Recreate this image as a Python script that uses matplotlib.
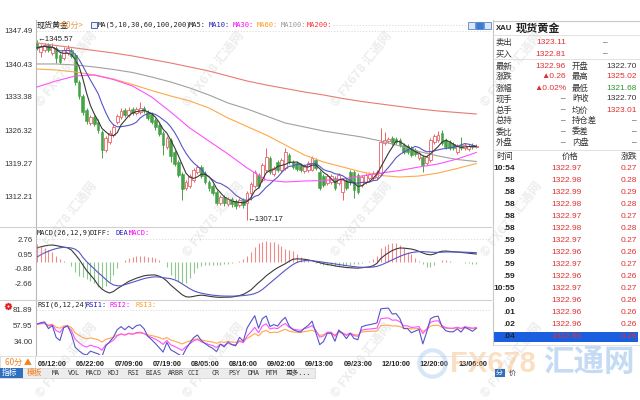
import numpy as np
import pandas as pd
import matplotlib
matplotlib.use('Agg')
import matplotlib.pyplot as plt
from matplotlib.patches import Rectangle
from matplotlib.lines import Line2D

# ---------------- data ----------------
opens = [1344.93,1343.00,1343.43,1344.50,1342.79,1343.86,1342.36,1341.72,1342.79,1343.43,
         1342.36,1336.59,1333.60,1330.60,1327.82,1329.11,1328.04,1325.90,1322.05,1323.76,
         1325.26,1328.04,1329.11,1330.60,1329.53,1330.82,1329.96,1330.17,1331.03,1330.17,
         1329.75,1328.46,1327.40,1325.69,1322.69,1324.19,1321.62,1319.48,1316.92,1313.93,
         1314.35,1315.64,1317.35,1318.42,1317.13,1315.21,1314.35,1313.07,1310.72,1312.00,
         1310.51,1311.57,1311.15,1310.29,1311.36,1310.72,1312.86,1314.35,1316.71,1315.64,
         1317.77,1320.34,1316.92,1319.48,1317.77,1318.20,1320.98,1319.48,1319.27,1318.84,
         1317.56,1317.77,1317.77,1319.91,1317.35,1316.49,1315.00,1315.21,1316.06,1315.00,
         1313.07,1315.64,1317.35,1317.35,1316.71,1314.57,1315.21,1316.06,1316.06,1316.28,
         1317.13,1323.55,1323.97,1324.62,1324.40,1324.19,1323.12,1322.91,1322.48,1322.05,
         1320.34,1320.55,1319.27,1319.91,1323.76,1324.19,1325.69,1324.19,1323.76,1323.33,
         1321.62,1323.12,1322.48,1322.26,1323.12,1322.69]
closes = [1343.86,1344.29,1344.50,1343.43,1344.07,1341.72,1340.86,1343.43,1343.86,1342.15,
          1336.59,1333.60,1330.17,1328.25,1329.11,1327.61,1326.33,1322.05,1324.62,1325.69,
          1326.97,1329.32,1330.39,1329.53,1330.60,1329.96,1330.82,1331.03,1330.39,1328.89,
          1328.04,1326.97,1325.47,1323.12,1324.62,1320.77,1319.06,1316.71,1313.71,1315.21,
          1316.49,1317.77,1318.42,1316.49,1315.21,1313.93,1312.86,1310.72,1312.00,1310.72,
          1311.57,1310.51,1310.08,1311.36,1310.29,1312.86,1314.78,1317.35,1314.35,1318.84,
          1320.55,1317.35,1318.20,1317.77,1319.91,1321.62,1319.48,1318.42,1317.99,1317.77,
          1318.63,1319.27,1320.34,1318.20,1313.93,1314.57,1316.49,1316.49,1313.93,1316.71,
          1315.64,1313.93,1315.21,1313.50,1313.07,1316.28,1316.71,1316.92,1317.13,1317.35,
          1323.76,1324.19,1324.40,1323.55,1323.76,1323.12,1321.62,1321.62,1320.98,1321.20,
          1321.41,1318.84,1320.55,1324.19,1325.04,1325.26,1323.55,1322.69,1322.48,1322.48,
          1322.91,1322.48,1323.12,1322.91,1322.69,1322.96]
highs = [1345.57,1344.71,1344.93,1344.93,1344.93,1344.29,1342.79,1344.07,1344.50,1343.86,
         1342.79,1337.02,1334.02,1331.03,1329.53,1329.53,1328.68,1326.33,1325.04,1326.33,
         1327.61,1329.75,1331.03,1331.03,1331.24,1331.24,1331.24,1332.31,1331.46,1330.60,
         1330.17,1328.89,1327.82,1326.11,1325.04,1324.62,1322.05,1319.91,1317.35,1315.64,
         1316.92,1318.20,1318.84,1318.84,1317.56,1315.64,1314.78,1313.50,1312.43,1312.43,
         1312.00,1312.00,1311.57,1311.79,1311.79,1313.28,1315.21,1317.77,1317.13,1319.27,
         1322.48,1320.77,1318.63,1319.91,1320.34,1322.48,1321.41,1319.91,1319.70,1319.27,
         1319.06,1319.70,1320.77,1320.34,1317.77,1316.92,1316.92,1316.92,1316.49,1317.13,
         1316.06,1316.06,1317.77,1317.77,1317.13,1316.71,1317.13,1317.35,1317.56,1317.77,
         1326.75,1325.90,1324.83,1325.04,1324.83,1324.62,1323.55,1323.33,1322.91,1322.48,
         1321.84,1320.98,1320.98,1324.62,1325.47,1326.11,1326.33,1324.62,1324.19,1323.76,
         1323.33,1324.83,1323.55,1323.33,1323.55,1323.33]
lows = [1343.43,1341.93,1343.00,1343.00,1342.36,1340.65,1340.44,1341.29,1342.36,1341.72,
        1335.95,1332.95,1329.53,1327.61,1327.40,1327.18,1325.69,1320.34,1321.62,1323.33,
        1324.83,1327.61,1328.68,1329.11,1329.11,1329.53,1329.53,1329.75,1329.96,1328.46,
        1327.61,1326.33,1325.04,1320.98,1322.26,1319.48,1318.63,1316.28,1311.36,1313.50,
        1313.93,1315.21,1316.92,1316.06,1314.78,1313.28,1312.43,1310.29,1310.29,1310.08,
        1310.08,1309.86,1309.44,1309.86,1309.65,1307.17,1311.36,1313.93,1313.93,1315.21,
        1317.35,1316.92,1316.49,1317.35,1317.35,1317.77,1319.06,1317.99,1317.56,1317.35,
        1317.13,1317.35,1317.56,1317.77,1313.50,1314.14,1314.57,1314.78,1313.50,1314.57,
        1311.36,1313.50,1314.57,1311.79,1312.64,1314.14,1314.78,1315.64,1315.64,1315.85,
        1316.71,1323.12,1323.55,1323.12,1323.33,1322.69,1321.20,1321.20,1320.55,1320.77,
        1319.91,1317.35,1318.84,1319.48,1323.33,1323.76,1323.12,1322.26,1322.05,1322.05,
        1321.20,1322.05,1322.05,1321.84,1322.26,1322.48]

# long moving averages every 5 bars
ma_idx = list(range(0, 116, 5))
ma30 = [1335.52,1336.80,1337.87,1338.09,1337.12,1335.73,1333.38,1330.17,1326.75,1323.97,
        1321.20,1318.20,1315.64,1315.21,1315.42,1315.53,1315.85,1316.49,1317.13,1317.67,
        1318.42,1319.06,1320.13,1321.52]
ma60 = [1339.37,1339.15,1338.73,1338.08,1337.23,1336.05,1334.77,1333.60,1332.53,1331.03,
        1328.89,1327.07,1325.26,1323.12,1320.98,1319.48,1318.42,1317.35,1316.60,1316.28,
        1316.49,1317.13,1318.10,1319.16]
ma100 = [1340.44,1340.44,1340.22,1339.80,1339.26,1338.62,1337.66,1336.59,1335.31,1333.81,
         1332.10,1330.82,1329.32,1327.82,1326.97,1326.11,1325.47,1324.83,1323.97,1322.91,
         1321.73,1320.77,1320.02,1319.59]
ma200 = [1344.93,1344.39,1343.86,1343.32,1342.79,1342.15,1341.40,1340.65,1339.80,1338.94,
         1337.87,1336.80,1335.95,1335.20,1334.45,1333.81,1333.06,1332.42,1331.88,1331.35,
         1330.82,1330.39,1330.07,1329.75]

diff = [1.70,1.85,1.95,2.03,2.07,2.00,1.90,1.80,1.72,1.45,
        0.90,0.30,-0.40,-1.10,-1.65,-2.20,-2.90,-3.40,-3.70,-3.88,
        -3.70,-3.35,-3.05,-2.75,-2.45,-2.25,-2.05,-1.90,-1.75,-1.68,
        -1.65,-1.65,-1.80,-2.02,-2.40,-2.90,-3.30,-3.70,-4.10,-4.35,
        -4.38,-4.30,-4.20,-4.15,-4.20,-4.28,-4.35,-4.40,-4.42,-4.40,
        -4.40,-4.38,-4.30,-4.20,-4.05,-3.80,-3.50,-3.05,-2.60,-2.20,
        -1.75,-1.40,-1.05,-0.75,-0.50,-0.25,0.05,0.30,0.35,0.33,
        0.30,0.22,0.12,-0.02,-0.12,-0.25,-0.35,-0.42,-0.52,-0.60,
        -0.66,-0.72,-0.75,-0.78,-0.80,-0.75,-0.70,-0.64,-0.50,-0.20,
        0.40,0.78,1.10,1.38,1.58,1.70,1.68,1.63,1.57,1.45,
        1.28,1.08,0.92,0.85,0.95,1.15,1.30,1.32,1.28,1.22,
        1.20,1.15,1.10,1.05,1.00,0.95]
dea = [0.58,0.85,1.10,1.30,1.48,1.62,1.72,1.78,1.75,1.70,
       1.55,1.20,0.55,0.00,-0.45,-0.90,-1.35,-1.75,-2.20,-2.60,
       -2.88,-2.98,-3.00,-2.85,-2.70,-2.55,-2.40,-2.25,-2.10,-2.00,
       -1.92,-1.88,-1.90,-1.98,-2.05,-2.10,-2.25,-2.45,-2.75,-3.05,
       -3.35,-3.60,-3.78,-3.90,-4.00,-4.08,-4.15,-4.20,-4.24,-4.26,
       -4.27,-4.27,-4.26,-4.24,-4.20,-4.15,-4.08,-3.95,-3.75,-3.45,
       -3.05,-2.65,-2.25,-1.85,-1.45,-1.05,-0.70,-0.35,-0.10,0.05,
       0.12,0.14,0.12,0.06,0.00,-0.07,-0.14,-0.21,-0.28,-0.35,
       -0.42,-0.49,-0.55,-0.61,-0.67,-0.69,-0.70,-0.69,-0.66,-0.58,
       -0.42,-0.22,0.00,0.22,0.45,0.66,0.85,1.00,1.12,1.20,
       1.24,1.25,1.22,1.18,1.16,1.16,1.18,1.20,1.21,1.21,
       1.20,1.19,1.18,1.16,1.14,1.12]

price_ticks = [1347.49, 1340.43, 1333.38, 1326.32, 1319.27, 1312.21]
macd_ticks = [2.76, 0.95, -0.86, -2.66]
rsi_ticks = [81.89, 57.95, 34.00]
time_labels = ['06/12:00','06/22:00','07/09:00','07/19:00','08/05:00','08/16:00',
               '09/02:00','09/13:00','09/23:00','12/10:00','12/20:00','13/06:00']
time_label_idx = [4 + 10 * k for k in range(12)]

quote_top = [('卖出', '1323.11', '–'), ('买入', '1322.81', '–')]
quote_l_names = ['最新', '涨跌', '涨幅', '现手', '总手', '总持', '委比', '外盘']
quote_l_vals = ['1322.96', '▲0.26', '▲0.02%', '–', '–', '–', '–', '–']
quote_r_names = ['开盘', '最高', '最低', '昨收', '均价', '持仓差', '委差', '内盘']
quote_r_vals = ['1322.70', '1325.02', '1321.68', '1322.70', '1323.01', '–', '–', '–']
tick_times = ['10:54','.58','.58','.58','.58','.58','.59','.59','.59','.59','10:55','.00','.01','.02','.04']
tick_prices = [1322.97,1322.98,1322.99,1322.98,1322.97,1322.98,1322.97,1322.96,1322.97,1322.96,
               1322.97,1322.96,1322.96,1322.96,1322.96]
tick_changes = [0.27,0.28,0.29,0.28,0.27,0.28,0.27,0.26,0.27,0.26,0.27,0.26,0.26,0.26,0.26]
toolbar = ['MA','VOL','MACD','KDJ','RSI','BIAS','ARBR','CCI','CR','PSY','DMA','MTM','更多...']

# ---------------- helpers ----------------
W, H = 640, 400
fig = plt.figure(figsize=(6.4, 4.0), dpi=100)
fig.patch.set_facecolor('white')
CJK = ['Noto Sans CJK SC', 'DejaVu Sans']
NUM = ['Liberation Sans', 'DejaVu Sans']
MONO = ['DejaVu Sans Mono', 'Noto Sans CJK SC']

def fx(x): return x / W
def fy(y): return 1 - y / H
def T(x, y, s, **kw):
    kw.setdefault('va', 'center')
    return fig.text(fx(x), fy(y), s, **kw)
def hline(x0, x1, y, **kw):
    fig.add_artist(Line2D([fx(x0), fx(x1)], [fy(y), fy(y)], **kw))
def vline(x, y0, y1, **kw):
    fig.add_artist(Line2D([fx(x), fx(x)], [fy(y0), fy(y1)], **kw))
def add_ax(x0, y0, x1, y1):
    ax = fig.add_axes([fx(x0), fy(y1), (x1 - x0) / W, (y1 - y0) / H])
    ax.set_facecolor('none')
    for s in ['top', 'right', 'bottom']:
        ax.spines[s].set_visible(False)
    ax.spines['left'].set_color('#b8b8b8')
    ax.spines['left'].set_linewidth(0.8)
    ax.tick_params(length=0)
    return ax

n = len(closes)
idx = np.arange(n)
XL = ((36 - 37) / 3.82, (491 - 37) / 3.82)
RED = '#e8646a'
GRN = '#46a246'

# ---------------- watermarks (behind everything) ----------------
for yy in [105, 255, 396]:
    for xx in [38, 185, 333, 483]:
        T(xx, yy, '© FX678 汇通网', fontsize=9, family=CJK, color='#c4c4c4', alpha=0.3,
          rotation=52, rotation_mode='anchor', ha='left', fontweight='bold', zorder=0)

# ---------------- main price panel ----------------
ax = add_ax(36, 20, 491, 227)
ax.set_xlim(*XL)
ax.set_ylim(1305.59, 1349.84)
for i in range(n):
    o, c, h, l = opens[i], closes[i], highs[i], lows[i]
    col = RED if c >= o else GRN
    ax.plot([i, i], [l, h], color=col, lw=0.7, zorder=2, solid_capstyle='butt')
    bot = min(o, c)
    ht = max(abs(c - o), 0.08)
    if c >= o:
        ax.add_patch(Rectangle((i - 0.36, bot), 0.72, ht, facecolor='white',
                               edgecolor=col, lw=0.6, zorder=3))
    else:
        ax.add_patch(Rectangle((i - 0.36, bot), 0.72, ht, facecolor=col,
                               edgecolor=col, lw=0.4, zorder=3))
cs = pd.Series(closes)
ma5 = cs.rolling(5, min_periods=1).mean()
ma10 = cs.rolling(10, min_periods=1).mean()
ax.plot(ma_idx, ma200, color='#e87a74', lw=0.8, zorder=4)
ax.plot(ma_idx, ma100, color='#a0a0a0', lw=0.8, zorder=4)
ax.plot(ma_idx, ma60, color='#ffa848', lw=0.8, zorder=4)
ax.plot(ma_idx, ma30, color='#ff50ff', lw=0.8, zorder=4)
ax.plot(idx, ma10, color='#5555c8', lw=0.8, zorder=5)
ax.plot(idx, ma5, color='#383838', lw=0.8, zorder=5)
ax.set_yticks(price_ticks)
ax.set_yticklabels([f'{v:.2f}' for v in price_ticks], fontsize=5.6, family=NUM, color='#333333')
ax.tick_params(axis='y', pad=2.5)
ax.set_xticks([])
ax.axhline(price_ticks[0], color='#d8d8d8', lw=0.6, ls=(0, (1.5, 2)), zorder=0)
ax.text(0.1, 1345.57, '←1345.57', fontsize=5.6, family=NUM, color='#222222', va='center', ha='left', zorder=6)
ax.text(55.2, 1307.17, '←1307.17', fontsize=5.6, family=NUM, color='#222222', va='center', ha='left', zorder=6)

# ---------------- MACD panel ----------------
axm = add_ax(36, 227, 491, 300)
axm.set_xlim(*XL)
axm.set_ylim(-4.75, 4.30)
hist = 2 * (np.array(diff) - np.array(dea))
for i in range(n):
    axm.plot([i, i], [0, hist[i]], color='#ee8a8a' if hist[i] >= 0 else '#8cc88c', lw=0.8,
             solid_capstyle='butt')
axm.plot(idx, diff, color='#3a3a3a', lw=0.8)
axm.plot(idx, dea, color='#5555c8', lw=0.8)
axm.set_yticks(macd_ticks)
axm.set_yticklabels([f'{v:.2f}' for v in macd_ticks], fontsize=5.6, family=NUM, color='#333333')
axm.tick_params(axis='y', pad=2.5)
axm.set_xticks([])
axm.axhline(macd_ticks[0], color='#d8d8d8', lw=0.6, ls=(0, (1.5, 2)), zorder=0)

# ---------------- RSI panel ----------------
def sma_cn(x, N):
    out = np.zeros(len(x))
    out[0] = x[0]
    for t in range(1, len(x)):
        out[t] = (x[t] + (N - 1) * out[t - 1]) / N
    return out
dc = np.diff(np.array(closes))
up = np.maximum(dc, 0)
ad = np.abs(dc)
seed = ad.mean()
def rsi(N):
    u = sma_cn(np.r_[seed * 0.6, up], N)
    a = sma_cn(np.r_[seed, ad], N)
    return u / a * 100
axr = add_ax(36, 300, 491, 355)
axr.set_xlim(*XL)
axr.set_ylim(12.38, 97.32)
axr.plot(idx, rsi(24), color='#ffa848', lw=0.8)
axr.plot(idx, rsi(12), color='#ff50ff', lw=0.8)
axr.plot(idx, rsi(6), color='#5555c8', lw=0.8)
axr.set_yticks(rsi_ticks)
axr.set_yticklabels([f'{v:.2f}' for v in rsi_ticks], fontsize=5.6, family=NUM, color='#333333')
axr.tick_params(axis='y', pad=2.5)
axr.set_xticks(time_label_idx)
axr.set_xticklabels(time_labels, fontsize=5.3, family=NUM, fontweight='bold', color='#222222')
axr.tick_params(axis='x', pad=4)
axr.axhline(rsi_ticks[0], color='#d8d8d8', lw=0.6, ls=(0, (1.5, 2)), zorder=0)

# separators
hline(0, 491, 227, color='#d0d0d0', lw=0.8)
hline(0, 491, 300, color='#d0d0d0', lw=0.8)
hline(0, 491, 356, color='#e0e0e0', lw=0.6)
hline(333, 466, 25, color='#d8d8d8', lw=0.6, ls=(0, (1.5, 2)))

# ---------------- titles ----------------
T(37, 25, '现货黄金', fontsize=5.8, family=CJK, color='#222222')
T(58, 25, '<60分>', fontsize=5.8, family=CJK, color='#e8a050')
fig.patches.append(Rectangle((fx(91), fy(28)), 6 / W, 6 / H, transform=fig.transFigure,
                             facecolor='#eef2ff', edgecolor='#3050a0', lw=0.6))
hdr = [(98, 'MA(5,10,30,60,100,200)', '#222222'), (189, 'MA5:', '#222222'),
       (209, 'MA10:', '#2020c0'), (233, 'MA30:', '#ff00ff'), (257, 'MA60:', '#ff9a20'),
       (281, 'MA100:', '#9a9a9a'), (307, 'MA200:', '#ff3030')]
for x, s, c in hdr:
    T(x, 25, s, fontsize=5.0, family=MONO, color=c)
T(37, 233, 'MACD(26,12,9)', fontsize=5.0, family=MONO, color='#222222')
T(90, 233, 'DIFF:', fontsize=5.0, family=MONO, color='#222222')
T(115, 233, 'DEA:', fontsize=5.0, family=MONO, color='#2020c0')
T(129, 233, 'MACD:', fontsize=5.0, family=MONO, color='#ff00ff')
T(37, 305, 'RSI(6,12,24)', fontsize=5.0, family=MONO, color='#222222')
T(86, 305, 'RSI1:', fontsize=5.0, family=MONO, color='#2020c0')
T(110, 305, 'RSI2:', fontsize=5.0, family=MONO, color='#ff00ff')
T(135, 305, 'RSI3:', fontsize=5.0, family=MONO, color='#ff9a20')
fig.add_artist(Line2D([fx(8)], [fy(306)], marker=(8, 1, 0), color='#e02020', ms=5, lw=0))
fig.add_artist(Line2D([fx(8)], [fy(306)], marker='o', color='#e02020', mfc='white', ms=2.5, lw=0))

# bottom left & toolbar
fig.patches.append(Rectangle((fx(0), fy(368)), 35 / W, 12 / H, transform=fig.transFigure,
                             facecolor='white', edgecolor='#d8d8d8', lw=0.6))
T(5, 362, '60分 ▲', fontsize=5.8, family=CJK, color='#f08020')
fig.patches.append(Rectangle((fx(0), fy(378)), 315 / W, 10 / H, transform=fig.transFigure,
                             facecolor='#ececec', edgecolor='#d0d0d0', lw=0.5))
fig.patches.append(Rectangle((fx(0), fy(378)), 23 / W, 10 / H, transform=fig.transFigure,
                             facecolor='#2f6fc0', edgecolor='none'))
T(2, 373, '指标', fontsize=5.6, family=CJK, color='white')
T(27, 373, '模板', fontsize=5.6, family=CJK, color='#f08020')
tb_x = [52, 68, 86, 108, 128, 146, 168, 187, 211, 228, 247, 266, 286]
for x, s in zip(tb_x, toolbar):
    T(x, 373, s, fontsize=4.8, family=MONO, color='#333333')

# ---------------- right quote panel ----------------
vline(493, 20, 345, color='#c8c8c8', lw=0.8)
hline(493, 640, 21, color='#c8c8c8', lw=0.8)
hline(493, 640, 35, color='#dddddd', lw=0.6)
hline(493, 640, 59, color='#dddddd', lw=0.6)
hline(493, 640, 150, color='#dddddd', lw=0.6)
hline(493, 640, 345, color='#dddddd', lw=0.6)
for k, c in enumerate(['#dce8fa', '#3a7bd5', '#dce8fa']):
    fig.patches.append(Rectangle((fx(468 + 8 * k), fy(29)), 7 / W, 7 / H, transform=fig.transFigure,
                                 facecolor=c, edgecolor='#3a70c0', lw=0.5))
T(496, 28, 'XAU', fontsize=5.6, family=NUM, color='#222222', fontweight='bold')
T(516, 28, '现货黄金', fontsize=8, family=CJK, color='#222222', fontweight='bold')
for r, (nm, v, d) in enumerate(quote_top):
    y = 43 + 11 * r
    T(496, y, nm, fontsize=6, family=CJK, color='#333333')
    T(566, y, v, fontsize=6, family=NUM, color='#e03030', ha='right')
    T(603, y, d, fontsize=6, family=NUM, color='#333333')
lcol = ['#e03030', '#e03030', '#e03030'] + ['#333333'] * 5
rcol = ['#333333', '#e03030', '#2a9a2a', '#333333', '#e03030'] + ['#333333'] * 3
for r in range(8):
    y = 66 + 11 * r
    T(496, y, quote_l_names[r], fontsize=6, family=CJK, color='#333333')
    T(566, y, quote_l_vals[r], fontsize=6, family=NUM, color=lcol[r], ha='right')
    T(572, y, quote_r_names[r], fontsize=6, family=CJK, color='#333333')
    T(637, y, quote_r_vals[r], fontsize=6, family=NUM, color=rcol[r], ha='right')
T(496, 156, '时间', fontsize=6, family=CJK, color='#333333')
T(570, 156, '价格', fontsize=6, family=CJK, color='#333333', ha='center')
T(637, 156, '涨跌', fontsize=6, family=CJK, color='#333333', ha='right')
for r in range(len(tick_times)):
    y = 169 + 12 * r
    if r == len(tick_times) - 1:
        fig.patches.append(Rectangle((fx(494), fy(y + 5)), 144 / W, 10 / H, transform=fig.transFigure,
                                     facecolor='#1a5fe0', edgecolor='none'))
    T(515, y, tick_times[r], fontsize=6, family=NUM, color='#222222', ha='right', fontweight='bold')
    T(582, y, f'{tick_prices[r]:.2f}', fontsize=6, family=NUM, color='#e03030', ha='right')
    T(637, y, f'{tick_changes[r]:.2f}', fontsize=6, family=NUM, color='#e03030', ha='right')

# big logo (bottom right, faint)
fig.add_artist(Line2D([fx(432)], [fy(363)], marker='o', ms=19, mfc='none', mec='#9cc4ec',
                      mew=3, alpha=0.4, lw=0))
T(450, 364, 'FX678', fontsize=21, family=NUM, color='#f7b878', alpha=0.45, fontweight='bold', zorder=0)
T(543, 362, '汇通网', fontsize=22, family=CJK, color='#7fb0e8', alpha=0.45, fontweight='bold', zorder=0)

fig.patches.append(Rectangle((fx(495), fy(377)), 10 / W, 8 / H, transform=fig.transFigure,
                             facecolor='#2f6fc0', edgecolor='none'))
T(495.5, 373, '分', fontsize=5, family=CJK, color='white')
T(509, 373, '价', fontsize=5, family=CJK, color='#333333')

fig.savefig('out.png', dpi=100, facecolor='white')
